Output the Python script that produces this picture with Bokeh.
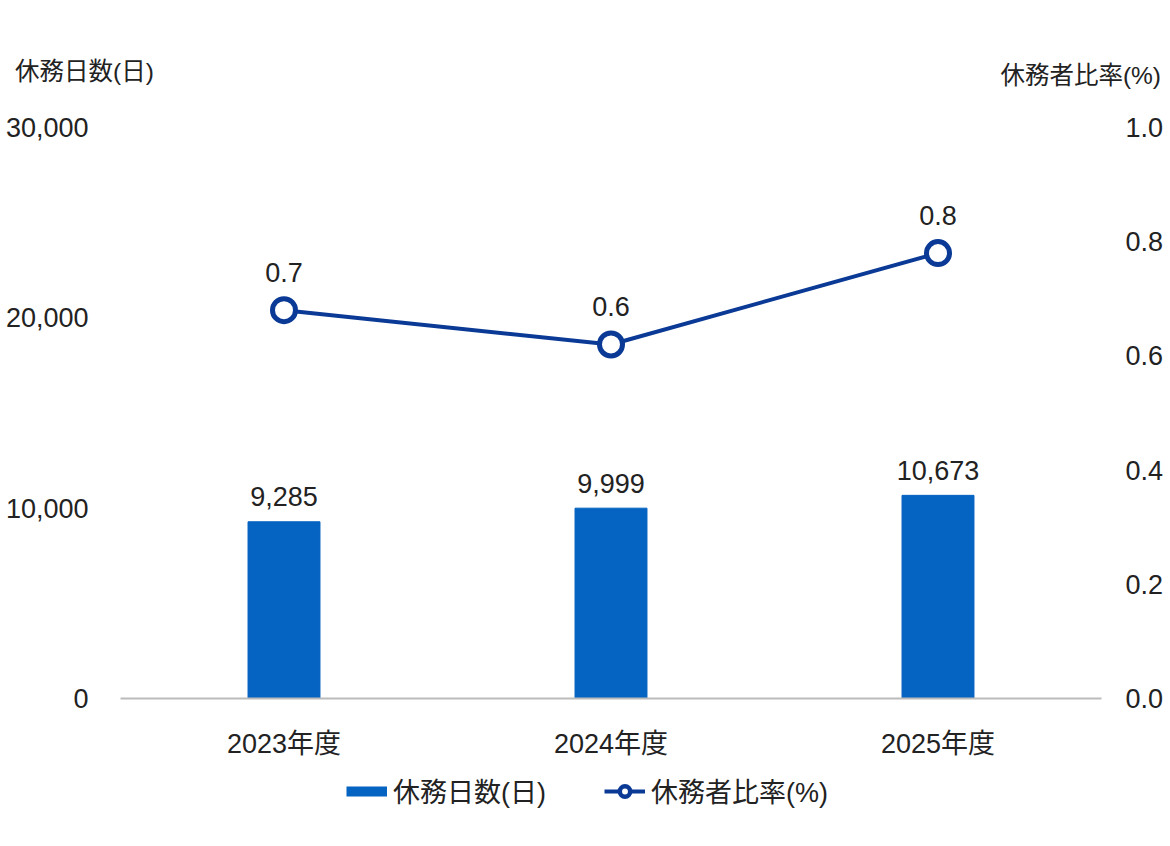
from bokeh.plotting import figure
from bokeh.layouts import column
from bokeh.models import Range1d, LinearAxis, FixedTicker, NumeralTickFormatter, Legend, LegendItem, Div
from bokeh.core.properties import value
from bokeh.embed import file_html
from bokeh.resources import INLINE

years = ["2023年度", "2024年度", "2025年度"]
days = [9285, 9999, 10673]
ratio = [0.68, 0.62, 0.78]
left_ticks = [0, 10000, 20000, 30000]
right_ticks = [0.0, 0.2, 0.4, 0.6, 0.8, 1.0]
left_title = "休務日数(日)"
right_title = "休務者比率(%)"

FONT = "Liberation Sans, Noto Sans CJK JP"
BAR = "#0563C1"
LINE = "#0A3A96"
TXT = "#222222"
W = 1165

# axis titles sit on one line above the chart
span = "position:absolute;line-height:28px;font-size:24.5px;white-space:nowrap;"
head = Div(width=W, height=100, text=(
    f'<div style="position:relative;width:{W}px;height:100px;color:{TXT};'
    f"font-family:'Liberation Sans','Noto Sans CJK JP',sans-serif;\">"
    f'<span style="{span}left:10px;top:53px;">{left_title}</span>'
    f'<span style="{span}right:9px;top:57px;">{right_title}</span></div>'))

p = figure(x_range=years, y_range=Range1d(0, 30000), frame_width=981, frame_height=571,
           output_backend="svg", toolbar_location=None,
           min_border_left=120, min_border_right=64, min_border_top=17, min_border_bottom=62)
p.extra_y_ranges = {"pct": Range1d(0, 1)}
p.outline_line_color = None
p.xgrid.grid_line_color = None
p.ygrid.grid_line_color = None

p.xaxis.axis_line_color = "#BBBBBB"
p.xaxis.axis_line_width = 2
p.xaxis.major_tick_line_color = None
p.xaxis.major_tick_out = 0
p.xaxis.minor_tick_line_color = None
p.xaxis.major_label_standoff = 30

p.yaxis.ticker = FixedTicker(ticks=left_ticks)
p.yaxis.formatter = NumeralTickFormatter(format="0,0")
p.yaxis.major_label_standoff = 32

right = LinearAxis(y_range_name="pct", ticker=FixedTicker(ticks=right_ticks),
                   formatter=NumeralTickFormatter(format="0.0"))
right.major_label_standoff = 24
p.add_layout(right, "right")

for ax in p.yaxis:
    ax.axis_line_color = None
    ax.major_tick_line_color = None
    ax.major_tick_out = 0
    ax.minor_tick_line_color = None
for ax in p.axis:
    ax.major_label_text_font = FONT
    ax.major_label_text_font_size = "27px"
    ax.major_label_text_color = TXT

bars = p.vbar(x=years, top=days, width=0.22, color=BAR)
ln = p.line(x=years, y=ratio, y_range_name="pct", line_width=4, color=LINE)
p.scatter(x=years, y=ratio, y_range_name="pct", size=23, fill_color="white",
          line_color=LINE, line_width=5)

p.text(x=years, y=days, text=[f"{d:,}" for d in days], y_offset=-25,
       text_align="center", text_baseline="alphabetic", text_font=value(FONT),
       text_font_size="27px", text_color=TXT)
p.text(x=years, y=ratio, text=[f"{r:.1f}" for r in ratio], y_range_name="pct", y_offset=-38,
       text_align="center", text_baseline="alphabetic", text_font=value(FONT),
       text_font_size="27px", text_color=TXT)

# legend strip under the chart (frame lines up with the chart frame)
leg = figure(x_range=Range1d(0, 1), y_range=Range1d(0, 1), frame_width=981, frame_height=70,
             output_backend="svg", toolbar_location=None, min_border=0,
             min_border_left=120, min_border_right=64,
             x_axis_location=None, y_axis_location=None)
leg.outline_line_color = None
leg.grid.visible = False
# one point outside the visible range so the legend has something to draw from
leg_bar = leg.line(x=[-1], y=[-1], line_width=10, color=BAR)
leg_line = leg.line(x=[-1], y=[-1], line_width=4, color=LINE)
leg_marker = leg.scatter(x=[-1], y=[-1], fill_color="white", line_color=LINE, line_width=4.5)

legend = Legend(items=[LegendItem(label=left_title, renderers=[leg_bar]),
                       LegendItem(label=right_title, renderers=[leg_line, leg_marker])],
                location=(226, 21), orientation="horizontal",
                glyph_width=41, glyph_height=26, label_standoff=6, spacing=58,
                padding=0, margin=0, border_line_alpha=0, background_fill_alpha=0,
                label_text_font=FONT, label_text_font_size="27px", label_text_color=TXT)
leg.add_layout(legend)

open("out.html", "w").write(file_html(column(head, p, leg), INLINE))
